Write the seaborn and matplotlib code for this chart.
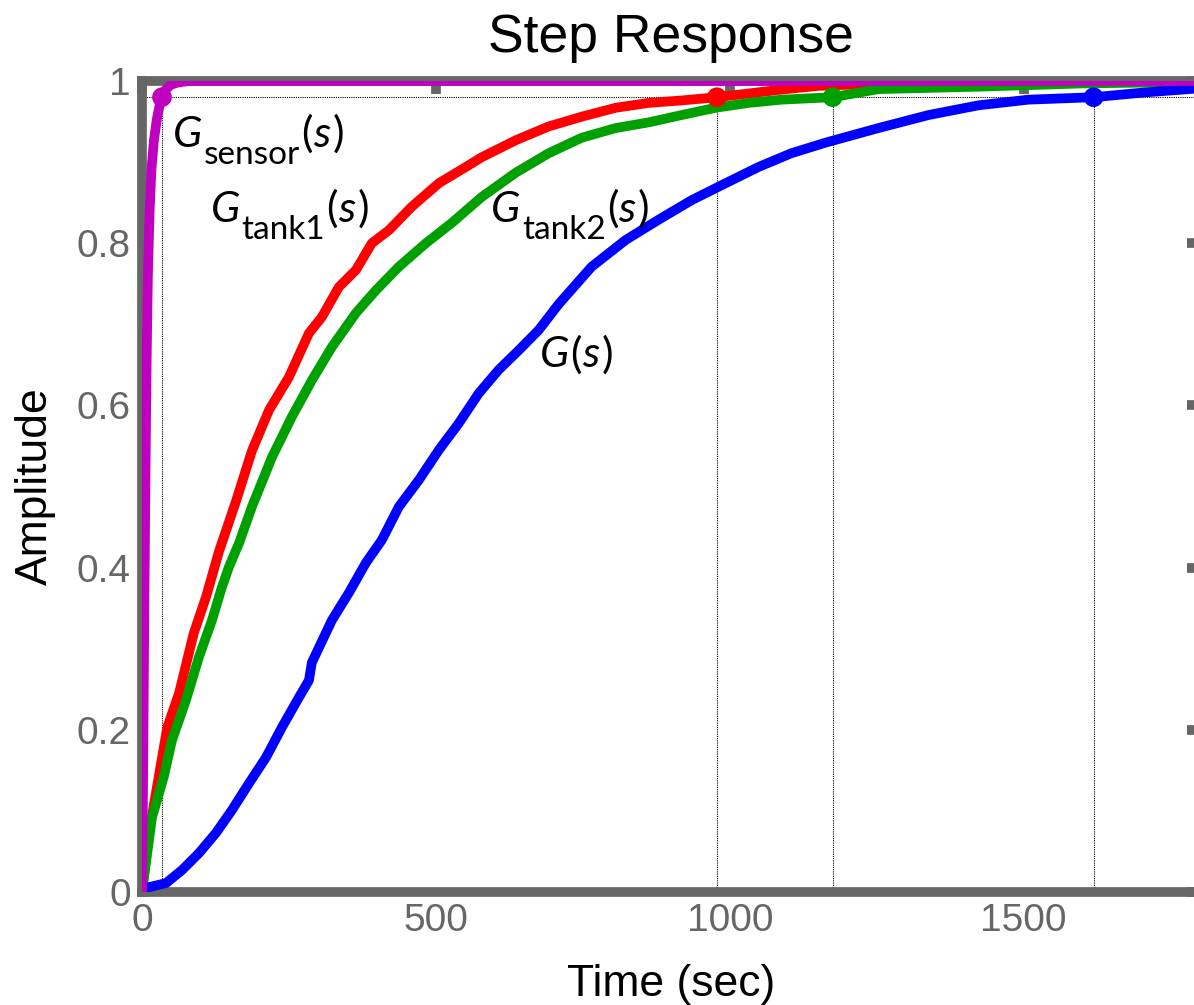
import numpy as np
import pandas as pd
import matplotlib
matplotlib.use("Agg")
import matplotlib.pyplot as plt
import seaborn as sns

# Step responses (time in seconds, normalised amplitude)
t_sensor = [0, 2, 4, 6, 8, 10, 13, 16, 20, 25, 30, 34, 40, 48, 60, 80, 1800]
a_sensor = [0, 0.15, 0.35, 0.52, 0.66, 0.76, 0.84, 0.89, 0.925, 0.952, 0.97,
            0.98, 0.989, 0.995, 0.998, 1.0, 1.0]

t_tank1 = [0, 12, 43, 63, 88, 109, 131, 160, 187, 216, 250, 284, 306, 335, 364,
           391, 420, 459, 505, 551, 578, 636, 692, 748, 806, 862, 918, 978,
           1083, 1150, 1265, 1400, 1800]
a_tank1 = [0, 0.073, 0.203, 0.245, 0.319, 0.364, 0.420, 0.482, 0.544, 0.594,
           0.635, 0.689, 0.709, 0.746, 0.767, 0.800, 0.816, 0.845, 0.874, 0.894,
           0.906, 0.927, 0.944, 0.956, 0.967, 0.973, 0.976, 0.980, 0.989, 0.994,
           0.997, 0.999, 1.0]

t_tank2 = [0, 17, 37, 51, 75, 97, 119, 136, 148, 165, 187, 221, 255, 289, 323,
           364, 398, 437, 483, 527, 578, 636, 692, 748, 806, 862, 918, 976,
           1032, 1088, 1175, 1253, 1423, 1600, 1800]
a_tank2 = [0, 0.092, 0.142, 0.187, 0.237, 0.290, 0.335, 0.376, 0.401, 0.430,
           0.475, 0.536, 0.586, 0.631, 0.672, 0.714, 0.742, 0.771, 0.800, 0.825,
           0.857, 0.887, 0.911, 0.930, 0.942, 0.949, 0.958, 0.967, 0.973, 0.977,
           0.980, 0.990, 0.993, 0.997, 0.999]

t_plant = [0, 12, 41, 68, 97, 126, 153, 182, 211, 238, 267, 284, 289, 323, 352,
           381, 408, 437, 471, 505, 539, 573, 607, 641, 675, 709, 765, 823, 879,
           935, 993, 1049, 1105, 1163, 1253, 1338, 1423, 1508, 1619, 1707, 1800]
a_plant = [0, 0.006, 0.011, 0.027, 0.048, 0.073, 0.101, 0.134, 0.166, 0.203,
           0.240, 0.261, 0.283, 0.335, 0.369, 0.406, 0.434, 0.475, 0.508, 0.545,
           0.578, 0.615, 0.644, 0.668, 0.693, 0.725, 0.771, 0.804, 0.829, 0.853,
           0.874, 0.894, 0.911, 0.924, 0.942, 0.958, 0.970, 0.977, 0.980, 0.986,
           0.991]

# Settling time (2 %) for each response
settle_names = ["tank1", "tank2", "G", "sensor"]
settle_t = [978, 1175, 1619, 34]
settle_a = [0.98, 0.98, 0.98, 0.98]

x_ticks = [0, 500, 1000, 1500]
y_ticks = [0, 0.2, 0.4, 0.6, 0.8, 1.0]
y_tick_labels = ["0", "0.2", "0.4", "0.6", "0.8", "1"]

colors = {"tank1": "#FF0000", "tank2": "#00A000", "G": "#0000FF", "sensor": "#BF00BF"}
order = ["tank1", "tank2", "G", "sensor"]

df = pd.concat([
    pd.DataFrame({"t": t_tank1, "A": a_tank1, "sys": "tank1"}),
    pd.DataFrame({"t": t_tank2, "A": a_tank2, "sys": "tank2"}),
    pd.DataFrame({"t": t_plant, "A": a_plant, "sys": "G"}),
    pd.DataFrame({"t": t_sensor, "A": a_sensor, "sys": "sensor"}),
], ignore_index=True)
settle = pd.DataFrame({"t": settle_t, "A": settle_a, "sys": settle_names})

sns.set_style("white")
plt.rcParams["font.family"] = ["Liberation Sans", "DejaVu Sans"]
plt.rcParams["text.color"] = "black"
plt.rcParams["axes.labelcolor"] = "black"

fig = plt.figure(figsize=(11.94, 10.05), dpi=100)
ax = fig.add_axes([142 / 1194, 113 / 1005, 1058 / 1194, 811 / 1005])
ax.set_axisbelow(True)

# settling-time guides
ax.axhline(0.98, color="black", lw=0.8, ls=(0, (1, 1)), zorder=1)
ax.axhline(1.0, color="black", lw=0.8, ls=(0, (1, 1)), zorder=1)
for ts, a in zip(settle_t, settle_a):
    ax.plot([ts, ts], [0, a], color="black", lw=0.8, ls=(0, (1, 1)), zorder=1)

sns.lineplot(data=df, x="t", y="A", hue="sys", hue_order=order, palette=colors,
             estimator=None, sort=False, linewidth=7, legend=False, ax=ax,
             solid_joinstyle="round", zorder=3)
sns.scatterplot(data=settle, x="t", y="A", hue="sys", hue_order=order,
                palette=colors, s=200, edgecolor="none", legend=False, ax=ax,
                zorder=4)

ax.set_xlim(0, 1800)
ax.set_ylim(0, 1)
ax.set_xticks(x_ticks)
ax.set_xticklabels([str(v) for v in x_ticks])
ax.set_yticks(y_ticks)
ax.set_yticklabels(y_tick_labels)

for sp in ax.spines.values():
    sp.set_linewidth(7)
    sp.set_color("#666666")
    sp.set_zorder(2)
ax.tick_params(direction="in", length=9.5, width=7, color="#666666",
               labelcolor="#666666", labelsize=28, top=True, right=True, pad=8)

ax.set_title("Step Response", fontsize=38.5, pad=21, color="black")
ax.set_xlabel("Time (sec)", fontsize=32, labelpad=18, color="black")
ax.set_ylabel("Amplitude", fontsize=32, labelpad=15, color="black")


def curve_label(x, y, sub=None):
    """Write G_sub(s) with an italic G and s, upright subscript and parens."""
    kw = dict(family="Lato", color="black", zorder=5)
    g = ax.text(x, y, "G", fontsize=31, fontstyle="italic", va="baseline",
                ha="left", **kw)
    prev = g
    if sub:
        prev = ax.annotate(sub, xy=(1, 0), xycoords=g, xytext=(1, -11.5),
                           textcoords="offset points", fontsize=24,
                           va="bottom", ha="left", **kw)
    p1 = ax.annotate("(", xy=(1, 0), xycoords=(prev, g), xytext=(1, 0),
                     textcoords="offset points", fontsize=31, va="bottom",
                     ha="left", **kw)
    p2 = ax.annotate("s", xy=(1, 0), xycoords=p1, xytext=(0, 0),
                     textcoords="offset points", fontsize=31,
                     fontstyle="italic", va="bottom", ha="left", **kw)
    ax.annotate(")", xy=(1, 0), xycoords=p2, xytext=(1.5, 0),
                textcoords="offset points", fontsize=31, va="bottom",
                ha="left", **kw)


curve_label(53, 0.919, "sensor")
curve_label(117, 0.826, "tank1")
curve_label(594, 0.826, "tank2")
curve_label(677, 0.647)

fig.savefig("out.png", dpi=100)
